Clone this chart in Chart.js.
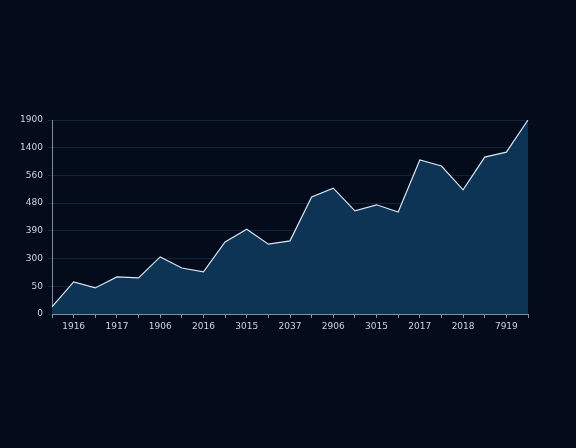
<!DOCTYPE html>
<html><head><meta charset="utf-8">
<script src="https://cdn.jsdelivr.net/npm/chart.js@4"></script>
<style>html,body{margin:0;background:#040c1c;}#w{width:576px;height:448px;}</style>
</head><body><div id="w"><canvas id="c"></canvas></div>
<script>
const xLabels = ["", "1916", "", "1917", "", "1906", "", "2016", "", "3015", "", "2037", "", "2906", "", "3015", "", "2017", "", "2018", "", "7919", ""];
const values = [13, 58, 47, 67, 65, 103, 83, 76, 130, 153, 126, 132, 211, 227, 186, 197, 184, 278, 267, 224, 283, 292, 350];
const yTickLabels = ["0", "50", "300", "390", "480", "560", "1400", "1900"];

new Chart(document.getElementById('c'), {
  type: 'line',
  data: { labels: xLabels, datasets: [{
    data: values, borderColor: '#d6e6f5', borderWidth: 1.2, pointRadius: 0, tension: 0,
    fill: 'origin', backgroundColor: '#0d3455'
  }]},
  options: {
    responsive: true, maintainAspectRatio: false, animation: false,
    layout: { padding: { left: 0, right: 48, top: 120, bottom: 104 } },
    plugins: { legend: { display: false }, tooltip: { enabled: false } },
    scales: {
      x: { offset: false, afterFit: s => { s.height = 30; },
        grid: { drawOnChartArea: false, drawTicks: true, tickLength: 4, color: '#7d8fa5' },
        border: { color: '#7d8fa5' },
        ticks: { autoSkip: false, maxRotation: 0, color: '#c9d2de', font: { family: 'DejaVu Sans', size: 9 }, padding: 3 } },
      y: { min: 0, max: 350, afterFit: s => { s.width = 52; },
        afterBuildTicks: s => { s.ticks = [0,50,100,150,200,250,300,350].map(v => ({ value: v })); },
        grid: { color: '#12243a', drawTicks: true, tickLength: 4 },
        border: { color: '#7d8fa5' },
        ticks: { color: '#c9d2de', font: { family: 'DejaVu Sans', size: 9 }, padding: 5,
          callback: (v) => yTickLabels[Math.round(v / 50)] } }
    }
  }
});
</script></body></html>
